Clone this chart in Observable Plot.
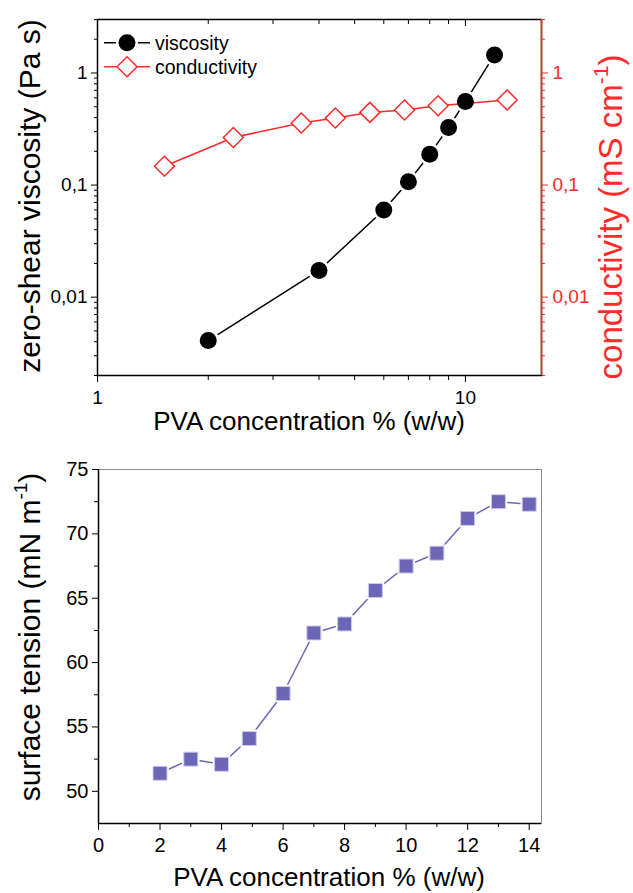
<!DOCTYPE html>
<html><head><meta charset="utf-8">
<script src="https://cdn.jsdelivr.net/npm/d3@7"></script>
<script src="https://cdn.jsdelivr.net/npm/@observablehq/plot@0.6"></script>
<style>
body{margin:0;background:#fff}
#c svg{display:block;font-family:"Liberation Sans",Arial,sans-serif}
</style>
</head><body><div id="c"></div>
<script>
// ---- data ----
const viscConc = [2, 4, 6, 7, 8, 9, 10, 12];
const viscosity = [0.0041, 0.0173, 0.060, 0.107, 0.188, 0.327, 0.557, 1.45];
const condConc = [1.52, 2.34, 3.58, 4.43, 5.5, 6.83, 8.43, 12.98];
const conductivity = [0.147, 0.266, 0.358, 0.396, 0.445, 0.468, 0.51, 0.574];
const stConc = [2, 3, 4, 4.9, 6, 7, 8, 9, 10, 11, 12, 13, 14];
const surfaceTension = [51.4, 52.5, 52.1, 54.1, 57.6, 62.3, 63.0, 65.6, 67.5, 68.5, 71.2, 72.5, 72.3];

const topXMajor = [1, 10];
const topXMinor = [2, 3, 4, 5, 6, 7, 8, 9];
const topYMajor = [0.01, 0.1, 1];
const topYMinor = [0.002,0.003,0.004,0.005,0.006,0.007,0.008,0.009,0.02,0.03,0.04,0.05,0.06,0.07,0.08,0.09,0.2,0.3,0.4,0.5,0.6,0.7,0.8,0.9,2,3];
const botXMajor = [0, 2, 4, 6, 8, 10, 12, 14];
const botXMinor = [1, 3, 5, 7, 9, 11, 13];
const botYMajor = [50, 55, 60, 65, 70, 75];
const botYMinor = [52.5, 57.5, 62.5, 67.5, 72.5];

const labels = {
  x: "PVA concentration % (w/w)",
  yVisc: "zero-shear viscosity (Pa s)",
  yCond: "conductivity (mS cm",
  ySt: "surface tension (mN m",
  legend: ["viscosity", "conductivity"]
};

const RED = "#ff2a2a";
const BLUE = "#6b66b5";
const FONT = "'Liberation Sans', Arial, sans-serif";
const comma = d => String(d).replace(".", ",");

const viscData = viscConc.map((x, i) => ({x, y: viscosity[i]}));
const condData = condConc.map((x, i) => ({x, y: conductivity[i]}));
const stData = stConc.map((x, i) => ({x, y: surfaceTension[i]}));

const X1 = [1, 16.1], Y1 = [0.002, 3];
const X2 = [0, 14.4], Y2 = [47.5, 75];

const chartTop = Plot.plot({
  width: 633, height: 440,
  marginTop: 19, marginRight: 92, marginBottom: 65, marginLeft: 97,
  style: {fontFamily: FONT, background: "white", color: "black"},
  x: {type: "log", domain: X1},
  y: {type: "log", domain: Y1},
  marks: [
    Plot.frame({stroke: "black", strokeWidth: 1.5}),
    Plot.ruleX([X1[1]], {stroke: RED, strokeWidth: 1.5}),
    Plot.axisX({ticks: topXMajor, tickSize: 7, tickPadding: 8, fontSize: 19, tickFormat: d => String(d), label: null}),
    Plot.axisX({ticks: topXMinor, tickSize: 5, tickFormat: () => "", label: null}),
    Plot.axisX({anchor: "top", ticks: topXMajor, tickSize: -6, tickFormat: () => "", label: null}),
    Plot.axisX({anchor: "top", ticks: topXMinor, tickSize: -4, tickFormat: () => "", label: null}),
    Plot.axisY({ticks: topYMajor, tickSize: 6, tickPadding: 4, fontSize: 19, tickFormat: comma, label: null}),
    Plot.axisY({ticks: topYMinor, tickSize: 3, tickFormat: () => "", label: null}),
    Plot.axisY({anchor: "right", ticks: topYMajor, tickSize: 6, tickPadding: 5, fontSize: 19, tickFormat: comma, label: null, stroke: RED, fill: RED, color: RED}),
    Plot.axisY({anchor: "right", ticks: topYMinor, tickSize: 3, tickFormat: () => "", label: null, stroke: RED}),
    Plot.line(viscData, {x: "x", y: "y", stroke: "black", strokeWidth: 1.5}),
    Plot.dot(viscData, {x: "x", y: "y", r: 8.5, fill: "black", stroke: "white", strokeWidth: 5}),
    Plot.line(condData, {x: "x", y: "y", stroke: RED, strokeWidth: 1.5}),
    Plot.dot(condData, {x: "x", y: "y", symbol: "diamond2", r: 9, fill: "white", stroke: RED, strokeWidth: 1.5}),
    Plot.dot(viscData, {x: "x", y: "y", r: 8.5, fill: "black"})
  ]
});

const chartBottom = Plot.plot({
  width: 633, height: 453,
  marginTop: 29, marginRight: 92, marginBottom: 70, marginLeft: 98,
  style: {fontFamily: FONT, background: "white", color: "black"},
  x: {domain: X2},
  y: {domain: Y2},
  marks: [
    Plot.frame({stroke: "#888", strokeWidth: 1}),
    Plot.ruleX([X2[0]], {stroke: "black", strokeWidth: 1.5}),
    Plot.ruleY([Y2[0]], {stroke: "black", strokeWidth: 1.5}),
    Plot.axisX({ticks: botXMajor, tickSize: 7, tickPadding: 7, fontSize: 20, tickFormat: d => String(d), label: null}),
    Plot.axisX({ticks: botXMinor, tickSize: 4, tickFormat: () => "", label: null}),
    Plot.axisY({ticks: botYMajor, tickSize: 6, tickPadding: 4, fontSize: 20, tickFormat: d => String(d), label: null}),
    Plot.axisY({ticks: botYMinor, tickSize: 4, tickFormat: () => "", label: null}),
    Plot.line(stData, {x: "x", y: "y", stroke: BLUE, strokeWidth: 1.5}),
    Plot.dot(stData, {x: "x", y: "y", symbol: "square", r: 7.9, fill: BLUE, stroke: "white", strokeWidth: 3.5}),
    Plot.dot(stData, {x: "x", y: "y", symbol: "square", r: 7.9, fill: BLUE, stroke: "#cfcce9", strokeWidth: 1})
  ]
});

const root = document.getElementById("c");
root.appendChild(chartTop);
root.appendChild(chartBottom);

function addText(svg, {x, y, rotate = 0, size, fill = "black", anchor = "middle", parts}) {
  const t = d3.select(svg).append("text")
    .attr("transform", `translate(${x},${y}) rotate(${rotate})`)
    .attr("text-anchor", anchor)
    .attr("font-family", FONT)
    .attr("font-size", size)
    .attr("fill", fill);
  parts.forEach(p => {
    const s = t.append("tspan").text(p.t);
    if (p.size) s.attr("font-size", p.size);
    if (p.dy) s.attr("dy", p.dy);
  });
  return t;
}

// top chart labels
addText(chartTop, {x: 309, y: 430, size: 26, parts: [{t: labels.x}]});
addText(chartTop, {x: 40, y: 196, rotate: -90, size: 30, parts: [{t: labels.yVisc}]});
addText(chartTop, {x: 622, y: 217, rotate: -90, size: 33, fill: RED, parts: [
  {t: labels.yCond}, {t: "-1", size: 21, dy: -14}, {t: ")", dy: 14}
]});
// legend
const lg = d3.select(chartTop).append("g");
[[42.7, 0], [66.7, 1]].forEach(([yy, i]) => {
  lg.append("line").attr("x1", 104).attr("x2", 150).attr("y1", yy).attr("y2", yy)
    .attr("stroke", i ? RED : "black").attr("stroke-width", 1.5);
  if (i === 0) {
    lg.append("circle").attr("cx", 127).attr("cy", yy).attr("r", 11).attr("fill", "white");
    lg.append("circle").attr("cx", 127).attr("cy", yy).attr("r", 8.5).attr("fill", "black");
  } else {
    lg.append("path").attr("d", `M127,${yy-10}L137,${yy}L127,${yy+10}L117,${yy}Z`)
      .attr("fill", "white").attr("stroke", RED).attr("stroke-width", 1.5);
  }
  lg.append("text").attr("x", 155).attr("y", yy + 7).attr("font-family", FONT)
    .attr("text-anchor", "start")
    .attr("font-size", 19.5).attr("fill", "black").text(labels.legend[i]);
});

// bottom chart labels
addText(chartBottom, {x: 329, y: 446, size: 26, parts: [{t: labels.x}]});
addText(chartBottom, {x: 40, y: 197, rotate: -90, size: 30, parts: [
  {t: labels.ySt}, {t: "-1", size: 19, dy: -13}, {t: ")", dy: 13}
]});
</script></body></html>
